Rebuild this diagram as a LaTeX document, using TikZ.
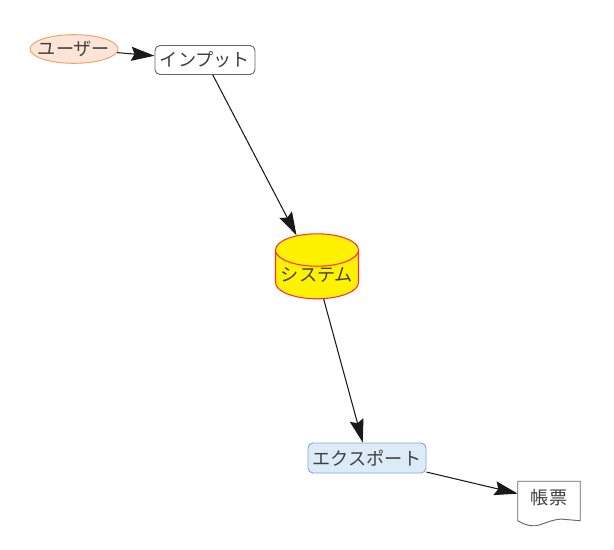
\documentclass[tikz,border=0pt]{standalone}
\usepackage{fontspec}
\setmainfont{Noto Sans CJK JP}
\usepackage{tikz}
\usetikzlibrary{shapes.geometric,arrows.meta}

\definecolor{userfill}{HTML}{FCE4D6}
\definecolor{userline}{HTML}{F0A060}
\definecolor{sysline}{HTML}{FF3030}
\definecolor{expfill}{HTML}{DDEBF7}
\definecolor{expline}{HTML}{7DA7D9}
\definecolor{textgray}{HTML}{404040}

\tikzset{
  every node/.style={font=\fontsize{15.5}{18}\selectfont, text=textgray, inner sep=0pt},
  flow/.style={-{Stealth[length=7mm, width=4.2mm, inset=1mm]}, line width=0.9pt, draw=black!90},
  actor/.style={ellipse, draw=userline, fill=userfill, line width=0.8pt, inner xsep=-4.5pt},
  stepbox/.style={rectangle, rounded corners=1.5mm, draw=black!60, fill=white, line width=0.8pt},
  store/.style={cylinder, shape border rotate=90, aspect=0.45, draw=sysline, fill=yellow, line width=0.9pt},
  outbox/.style={rectangle, rounded corners=1.5mm, draw=expline, fill=expfill, line width=0.8pt},
}

\begin{document}
\begin{tikzpicture}
    \useasboundingbox (0cm,0cm) rectangle (18.42cm,16.47cm);
    \node[actor, minimum width=2.64cm, minimum height=0.86cm] (user) at (2.22cm,15.00cm) {ユーザー};
    \node[stepbox, minimum width=3.00cm, minimum height=0.87cm] (input) at (6.15cm,14.67cm) {インプット};
    \node[store, minimum width=2.49cm, minimum height=1.95cm] (system) at (9.51cm,8.23cm) {システム};
    \node[outbox, minimum width=3.54cm, minimum height=0.90cm] (export) at (11.01cm,2.73cm) {エクスポート};
    \node[minimum width=1.86cm, minimum height=1.17cm] (report) at (16.47cm,1.44cm) {};
    % document outline with wavy bottom
    \draw[black!60, line width=0.8pt, fill=white] (report.north west) -- (report.south west)
      .. controls ++(0.6cm,-0.35cm) and ++(-0.6cm,-0.05cm) .. ++(1.3cm,0.05cm)
      .. controls ++(0.3cm,0cm) .. (report.south east) -- (report.north east) -- cycle;
    \node at ([yshift=0.1cm]report.center) {帳票};
    \draw[flow] (user) -- (input);
    \draw[flow] (input) -- (system);
    \draw[flow] (system) -- (export);
    \draw[flow] (export) -- (report);
\end{tikzpicture}
\end{document}
